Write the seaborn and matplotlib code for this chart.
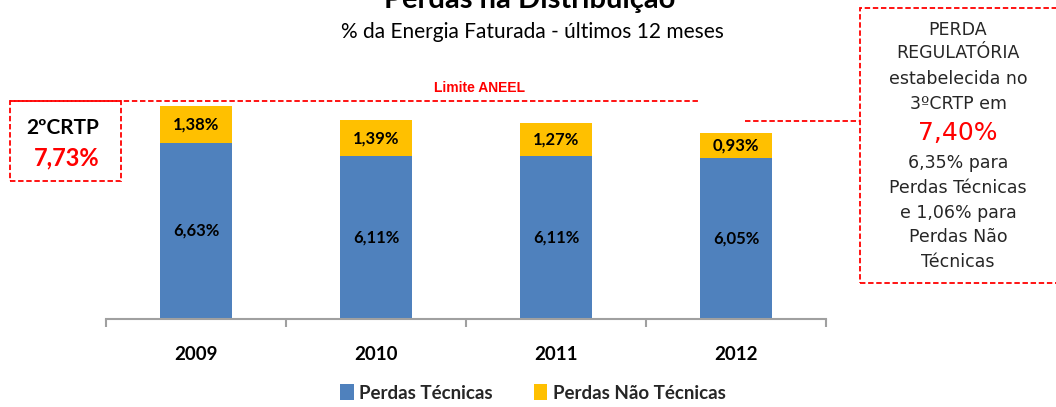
"""Perdas na Distribuição - stacked bars (técnicas + não técnicas)."""

import matplotlib
matplotlib.use("Agg")
import matplotlib.pyplot as plt
from matplotlib.patches import Patch, Rectangle
from matplotlib.lines import Line2D
import pandas as pd
import seaborn as sns

YEARS = ["2009", "2010", "2011", "2012"]
PERDAS_TECNICAS = [6.63, 6.11, 6.11, 6.05]
PERDAS_NAO_TECNICAS = [1.38, 1.39, 1.27, 0.93]

BLUE = "#4F81BD"
GOLD = "#FFC000"
RED = "#FF0000"

W, H = 1056, 407


def fx(x):
    return x / W


def fy(y):
    return 1 - y / H


def fmt(v):
    return f"{v:.2f}%".replace(".", ",")


sns.set_theme(style="white")
plt.rcParams["font.family"] = ["Lato", "DejaVu Sans"]

df = pd.DataFrame({
    "ano": YEARS,
    "tecnicas": PERDAS_TECNICAS,
    "nao_tecnicas": PERDAS_NAO_TECNICAS,
})
df["total"] = df["tecnicas"] + df["nao_tecnicas"]

fig = plt.figure(figsize=(W / 100, H / 100), dpi=100)
# axes: x 106..826 px, baseline at 318.7 px, 26.55 px per unit
ymax = 9.0
top_px = 318.7 - ymax * 26.55
ax = fig.add_axes([fx(106), fy(318.7), (826 - 106) / W, (318.7 - top_px) / H])

sns.barplot(data=df, x="ano", y="total", order=YEARS, color=GOLD, width=0.405,
            saturation=1, ax=ax, edgecolor="none")
sns.barplot(data=df, x="ano", y="tecnicas", order=YEARS, color=BLUE, width=0.405,
            saturation=1, ax=ax, edgecolor="none")

ax.set_xlim(-0.5, len(YEARS) - 0.5)
ax.set_ylim(0, ymax)
ax.set_xlabel("")
ax.set_ylabel("")
ax.set_yticks([])
for s in ["left", "right", "top"]:
    ax.spines[s].set_visible(False)
ax.spines["bottom"].set_color("#A0A0A0")
ax.spines["bottom"].set_linewidth(1.5)
ax.set_xticks(range(len(YEARS)))
ax.set_xticklabels(YEARS, fontsize=13.5, fontweight="bold", color="black")
ax.tick_params(axis="x", which="major", length=0, pad=20)
ax.set_xticks([i - 0.5 for i in range(len(YEARS) + 1)], minor=True)
ax.tick_params(axis="x", which="minor", bottom=True, length=6, width=1.5,
               color="#A0A0A0", direction="out")

for i, (t, n) in enumerate(zip(PERDAS_TECNICAS, PERDAS_NAO_TECNICAS)):
    ax.text(i, t / 2, fmt(t), ha="center", va="center", fontsize=12,
            fontweight="bold", color="black")
    ax.text(i, t + n / 2, fmt(n), ha="center", va="center", fontsize=12,
            fontweight="bold", color="black")

# title
fig.text(fx(530), fy(8), "Perdas na Distribuição", ha="center", va="baseline",
         fontsize=21, fontweight="bold", color="black")
fig.text(fx(532), fy(38), "% da Energia Faturada - últimos 12 meses", ha="center",
         va="baseline", fontsize=15, color="black")

# limite ANEEL line and label
dash = dict(color=RED, linewidth=1.3, linestyle=(0, (3, 1.5)))
fig.add_artist(Line2D([fx(10), fx(700)], [fy(101), fy(101)], transform=fig.transFigure, **dash))
fig.text(fx(480), fy(88), "Limite ANEEL", ha="center", va="center", fontsize=10,
         fontweight="bold", color=RED, family=["Liberation Sans", "DejaVu Sans"])

# left box 2ºCRTP
fig.add_artist(Rectangle((fx(10), fy(181)), fx(111), (181 - 101) / H, fill=False,
                         transform=fig.transFigure, **dash))
fig.text(fx(63), fy(128), "2ºCRTP", ha="center", va="center", fontsize=15,
         fontweight="bold", color="black")
fig.text(fx(67), fy(158), "7,73%", ha="center", va="center", fontsize=17,
         fontweight="bold", color=RED)

# right box perda regulatória
fig.add_artist(Line2D([fx(745), fx(860)], [fy(120.7), fy(120.7)], transform=fig.transFigure, **dash))
fig.add_artist(Rectangle((fx(860), fy(283)), fx(220), (283 - 8) / H, fill=False,
                         transform=fig.transFigure, **dash))
box_font = ["DejaVu Sans"]
lines = [
    ("PERDA", 30, 12.5, "#262626"),
    ("REGULATÓRIA", 53, 12.5, "#262626"),
    ("estabelecida no", 79, 12.5, "#262626"),
    ("3ºCRTP em", 104, 12.5, "#262626"),
    ("7,40%", 133, 18, RED),
    ("6,35% para", 163, 12.5, "#262626"),
    ("Perdas Técnicas", 188, 12.5, "#262626"),
    ("e 1,06% para", 213, 12.5, "#262626"),
    ("Perdas Não", 237, 12.5, "#262626"),
    ("Técnicas", 262, 12.5, "#262626"),
]
for txt, y, size, col in lines:
    fig.text(fx(958), fy(y), txt, ha="center", va="center", fontsize=size,
             color=col, family=box_font)

# legend
handles = [Patch(facecolor=BLUE, edgecolor="none", label="Perdas Técnicas"),
           Patch(facecolor=GOLD, edgecolor="none", label="Perdas Não Técnicas")]
fig.legend(handles=handles, loc="center", bbox_to_anchor=(fx(533), fy(393)), ncol=2,
           frameon=False, prop={"weight": "bold", "size": 13.5}, handlelength=0.7,
           handleheight=0.9, handletextpad=0.3, columnspacing=2.2)

fig.savefig("out.png", dpi=100)
